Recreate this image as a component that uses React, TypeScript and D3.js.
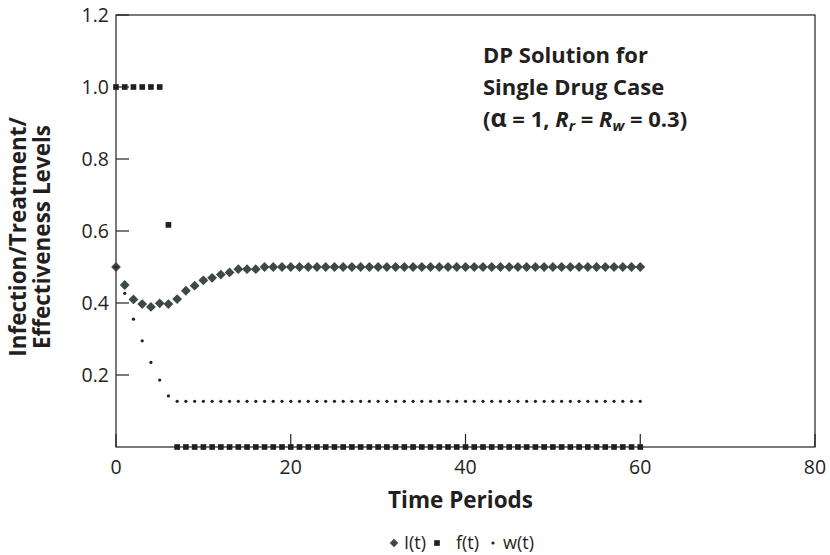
import { useRef, useEffect } from 'react';
import * as d3 from 'd3';

const W = 830;
const H = 555;

const times = d3.range(0, 61);

// I(t) infection level
const infection = [
  0.5, 0.45, 0.41, 0.397, 0.389, 0.399, 0.397, 0.411, 0.434, 0.448,
  0.463, 0.47, 0.479, 0.485, 0.494, 0.494, 0.494, 0.5, 0.5, 0.5,
  0.5, 0.5, 0.5, 0.5, 0.5, 0.5, 0.5, 0.5, 0.5, 0.5,
  0.5, 0.5, 0.5, 0.5, 0.5, 0.5, 0.5, 0.5, 0.5, 0.5,
  0.5, 0.5, 0.5, 0.5, 0.5, 0.5, 0.5, 0.5, 0.5, 0.5,
  0.5, 0.5, 0.5, 0.5, 0.5, 0.5, 0.5, 0.5, 0.5, 0.5,
  0.5,
];

// f(t) treatment level
const treatment = [
  1, 1, 1, 1, 1, 1, 0.617, 0, 0, 0,
  0, 0, 0, 0, 0, 0, 0, 0, 0, 0,
  0, 0, 0, 0, 0, 0, 0, 0, 0, 0,
  0, 0, 0, 0, 0, 0, 0, 0, 0, 0,
  0, 0, 0, 0, 0, 0, 0, 0, 0, 0,
  0, 0, 0, 0, 0, 0, 0, 0, 0, 0,
  0,
];

// w(t) effectiveness level
const effectiveness = [
  0.5, 0.427, 0.355, 0.295, 0.235, 0.186, 0.142, 0.127, 0.127, 0.127,
  0.127, 0.127, 0.127, 0.127, 0.127, 0.127, 0.127, 0.127, 0.127, 0.127,
  0.127, 0.127, 0.127, 0.127, 0.127, 0.127, 0.127, 0.127, 0.127, 0.127,
  0.127, 0.127, 0.127, 0.127, 0.127, 0.127, 0.127, 0.127, 0.127, 0.127,
  0.127, 0.127, 0.127, 0.127, 0.127, 0.127, 0.127, 0.127, 0.127, 0.127,
  0.127, 0.127, 0.127, 0.127, 0.127, 0.127, 0.127, 0.127, 0.127, 0.127,
  0.127,
];

const xTicks = [0, 20, 40, 60, 80];
const yTicks = [0.2, 0.4, 0.6, 0.8, 1.0, 1.2];

const INK = '#231f20';
const DIAMOND = '#3d4849';
const FONT = '"Open Sans", "DejaVu Sans", sans-serif';

export default function App() {
  const svgRef = useRef<SVGSVGElement>(null);

  useEffect(() => {
    const svg = d3.select(svgRef.current);
    svg.selectAll('*').remove();

    const left = 116;
    const right = 815;
    const top = 15;
    const bottom = 447;

    const x = d3.scaleLinear().domain([0, 80]).range([left, right]);
    const y = d3.scaleLinear().domain([0, 1.2]).range([bottom, top]);

    const g = svg.append('g').attr('font-family', FONT);

    // frame
    g.append('rect')
      .attr('x', left)
      .attr('y', top)
      .attr('width', right - left)
      .attr('height', bottom - top)
      .attr('fill', 'none')
      .attr('stroke', INK)
      .attr('stroke-width', 1.2);

    // y ticks (inward)
    g.selectAll('.ytick')
      .data(yTicks)
      .join('line')
      .attr('x1', left)
      .attr('x2', left + 13)
      .attr('y1', (d) => y(d))
      .attr('y2', (d) => y(d))
      .attr('stroke', INK)
      .attr('stroke-width', 1.2);

    g.selectAll('.ylab')
      .data(yTicks)
      .join('text')
      .attr('x', left - 7)
      .attr('y', (d) => y(d))
      .attr('dy', '0.36em')
      .attr('text-anchor', 'end')
      .attr('font-size', 19.5)
      .attr('fill', INK)
      .text((d) => d3.format('.1f')(d));

    // x ticks (inward)
    g.selectAll('.xtick')
      .data(xTicks)
      .join('line')
      .attr('x1', (d) => x(d))
      .attr('x2', (d) => x(d))
      .attr('y1', bottom)
      .attr('y2', bottom - 13)
      .attr('stroke', INK)
      .attr('stroke-width', 1.2);

    g.selectAll('.xlab')
      .data(xTicks)
      .join('text')
      .attr('x', (d) => x(d))
      .attr('y', bottom + 27)
      .attr('text-anchor', 'middle')
      .attr('font-size', 19.5)
      .attr('fill', INK)
      .text((d) => d);

    // axis titles
    g.append('text')
      .attr('x', (left + right) / 2 - 5)
      .attr('y', 508)
      .attr('text-anchor', 'middle')
      .attr('font-size', 22.5)
      .attr('font-weight', 700)
      .attr('fill', INK)
      .text('Time Periods');

    const yTitle = g
      .append('text')
      .attr('transform', `translate(0,${(top + bottom) / 2 + 6}) rotate(-90)`)
      .attr('text-anchor', 'middle')
      .attr('font-size', 22.5)
      .attr('font-weight', 700)
      .attr('fill', INK);
    yTitle.append('tspan').attr('x', 0).attr('y', 26).text('Infection/Treatment/');
    yTitle.append('tspan').attr('x', 0).attr('y', 50).text('Effectiveness Levels');

    // annotation
    const note = g
      .append('g')
      .attr('font-size', 22)
      .attr('font-weight', 700)
      .attr('fill', INK);
    note.append('text').attr('x', 483).attr('y', 63).text('DP Solution for');
    note.append('text').attr('x', 483).attr('y', 95).text('Single Drug Case');
    const l3 = note.append('text').attr('x', 483).attr('y', 127);
    l3.append('tspan').text('(');
    l3.append('tspan').attr('font-size', 25).text('α');
    l3.append('tspan').text(' = 1, ');
    l3.append('tspan').attr('font-style', 'italic').text('R');
    l3.append('tspan').attr('font-style', 'italic').attr('font-size', 15).attr('dy', 4).text('r');
    l3.append('tspan').attr('dy', -4).text(' = ');
    l3.append('tspan').attr('font-style', 'italic').text('R');
    l3.append('tspan').attr('font-style', 'italic').attr('font-size', 15).attr('dy', 4).text('w');
    l3.append('tspan').attr('dy', -4).text(' = 0.3)');

    const diamond = d3.symbol(d3.symbolSquare, 48);
    const square = d3.symbol(d3.symbolSquare, 32);

    // f(t)
    g.selectAll('.f')
      .data(times)
      .join('path')
      .attr('d', square)
      .attr('transform', (t) => `translate(${x(t)},${y(treatment[t])})`)
      .attr('fill', INK);

    // I(t)
    g.selectAll('.i')
      .data(times)
      .join('path')
      .attr('d', diamond)
      .attr('transform', (t) => `translate(${x(t)},${y(infection[t])}) rotate(45)`)
      .attr('fill', DIAMOND);

    // w(t)
    g.selectAll('.w')
      .data(times)
      .join('circle')
      .attr('cx', (t) => x(t))
      .attr('cy', (t) => y(effectiveness[t]))
      .attr('r', 1.6)
      .attr('fill', INK);

    // legend
    const leg = g.append('g').attr('font-size', 18).attr('fill', INK);
    const ly = 543;
    leg.append('path').attr('d', d3.symbol(d3.symbolSquare, 36)).attr('transform', `translate(394,${ly}) rotate(45)`).attr('fill', DIAMOND);
    leg.append('text').attr('x', 404).attr('y', ly).attr('dy', '0.35em').text('I(t)');
    leg.append('path').attr('d', square).attr('transform', `translate(437,${ly})`).attr('fill', INK);
    leg.append('text').attr('x', 456).attr('y', ly).attr('dy', '0.35em').text('f(t)');
    leg.append('circle').attr('cx', 493).attr('cy', ly).attr('r', 1.6).attr('fill', INK);
    leg.append('text').attr('x', 503).attr('y', ly).attr('dy', '0.35em').text('w(t)');
  }, []);

  return (
    <svg
      ref={svgRef}
      width={W}
      height={H}
      style={{ position: 'absolute', left: 0, top: 0, background: '#fff' }}
    />
  );
}
